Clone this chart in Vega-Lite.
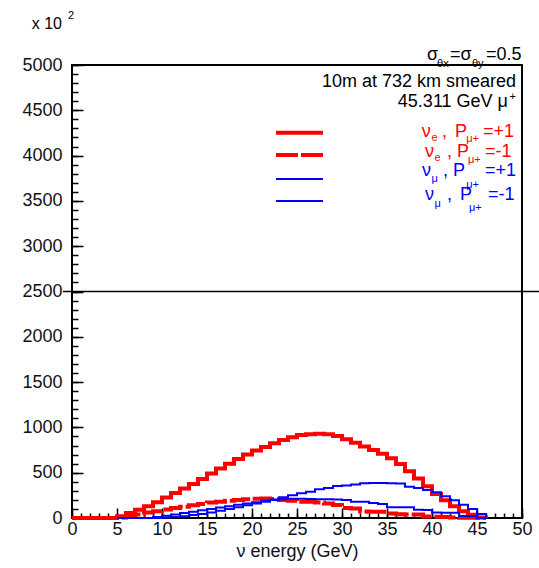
{
  "$schema": "https://vega.github.io/schema/vega-lite/v6.json",
  "width": 450,
  "height": 453,
  "autosize": "none",
  "padding": {"left": 72, "top": 65, "right": 17, "bottom": 50},
  "background": "white",
  "config": {
    "view": {"stroke": "black", "strokeWidth": 2},
    "font": "Liberation Sans",
    "axis": {"domain": false, "tickColor": "black", "tickWidth": 1.5, "labelColor": "#111", "labelFont": "Liberation Sans", "labelFontSize": 18, "titleFont": "Liberation Sans", "titleFontSize": 18, "titleFontWeight": "normal", "titleColor": "#111", "grid": false, "labelOverlap": false, "labelFlush": false}
  },
  "datasets": {
    "hist": [
      {"s":"e+1","E":0,"n":0},{"s":"e+1","E":1,"n":0},{"s":"e+1","E":2,"n":0},{"s":"e+1","E":3,"n":0},{"s":"e+1","E":4,"n":0},{"s":"e+1","E":5,"n":20},{"s":"e+1","E":6,"n":55},{"s":"e+1","E":7,"n":90},{"s":"e+1","E":8,"n":130},{"s":"e+1","E":9,"n":175},{"s":"e+1","E":10,"n":225},{"s":"e+1","E":11,"n":275},{"s":"e+1","E":12,"n":325},{"s":"e+1","E":13,"n":375},{"s":"e+1","E":14,"n":430},{"s":"e+1","E":15,"n":490},{"s":"e+1","E":16,"n":545},{"s":"e+1","E":17,"n":600},{"s":"e+1","E":18,"n":650},{"s":"e+1","E":19,"n":700},{"s":"e+1","E":20,"n":745},{"s":"e+1","E":21,"n":785},{"s":"e+1","E":22,"n":825},{"s":"e+1","E":23,"n":860},{"s":"e+1","E":24,"n":890},{"s":"e+1","E":25,"n":915},{"s":"e+1","E":26,"n":925},{"s":"e+1","E":27,"n":930},{"s":"e+1","E":28,"n":925},{"s":"e+1","E":29,"n":905},{"s":"e+1","E":30,"n":870},{"s":"e+1","E":31,"n":830},{"s":"e+1","E":32,"n":790},{"s":"e+1","E":33,"n":750},{"s":"e+1","E":34,"n":710},{"s":"e+1","E":35,"n":660},{"s":"e+1","E":36,"n":595},{"s":"e+1","E":37,"n":515},{"s":"e+1","E":38,"n":435},{"s":"e+1","E":39,"n":350},{"s":"e+1","E":40,"n":265},{"s":"e+1","E":41,"n":195},{"s":"e+1","E":42,"n":130},{"s":"e+1","E":43,"n":75},{"s":"e+1","E":44,"n":35},{"s":"e+1","E":45,"n":5},{"s":"e+1","E":46,"n":0},
      {"s":"e-1","E":0,"n":0},{"s":"e-1","E":1,"n":0},{"s":"e-1","E":2,"n":0},{"s":"e-1","E":3,"n":0},{"s":"e-1","E":4,"n":0},{"s":"e-1","E":5,"n":5},{"s":"e-1","E":6,"n":20},{"s":"e-1","E":7,"n":40},{"s":"e-1","E":8,"n":60},{"s":"e-1","E":9,"n":75},{"s":"e-1","E":10,"n":95},{"s":"e-1","E":11,"n":110},{"s":"e-1","E":12,"n":125},{"s":"e-1","E":13,"n":140},{"s":"e-1","E":14,"n":155},{"s":"e-1","E":15,"n":170},{"s":"e-1","E":16,"n":180},{"s":"e-1","E":17,"n":190},{"s":"e-1","E":18,"n":200},{"s":"e-1","E":19,"n":208},{"s":"e-1","E":20,"n":213},{"s":"e-1","E":21,"n":215},{"s":"e-1","E":22,"n":210},{"s":"e-1","E":23,"n":200},{"s":"e-1","E":24,"n":190},{"s":"e-1","E":25,"n":180},{"s":"e-1","E":26,"n":178},{"s":"e-1","E":27,"n":170},{"s":"e-1","E":28,"n":160},{"s":"e-1","E":29,"n":143},{"s":"e-1","E":30,"n":110},{"s":"e-1","E":31,"n":105},{"s":"e-1","E":32,"n":72},{"s":"e-1","E":33,"n":70},{"s":"e-1","E":34,"n":68},{"s":"e-1","E":35,"n":50},{"s":"e-1","E":36,"n":42},{"s":"e-1","E":37,"n":40},{"s":"e-1","E":38,"n":38},{"s":"e-1","E":39,"n":16},{"s":"e-1","E":40,"n":15},{"s":"e-1","E":41,"n":12},{"s":"e-1","E":42,"n":5},{"s":"e-1","E":43,"n":4},{"s":"e-1","E":44,"n":3},{"s":"e-1","E":45,"n":0},{"s":"e-1","E":46,"n":0},
      {"s":"mu+1","E":5,"n":0},{"s":"mu+1","E":6,"n":0},{"s":"mu+1","E":7,"n":0},{"s":"mu+1","E":8,"n":0},{"s":"mu+1","E":9,"n":0},{"s":"mu+1","E":10,"n":5},{"s":"mu+1","E":11,"n":10},{"s":"mu+1","E":12,"n":20},{"s":"mu+1","E":13,"n":32},{"s":"mu+1","E":14,"n":45},{"s":"mu+1","E":15,"n":60},{"s":"mu+1","E":16,"n":80},{"s":"mu+1","E":17,"n":100},{"s":"mu+1","E":18,"n":120},{"s":"mu+1","E":19,"n":140},{"s":"mu+1","E":20,"n":160},{"s":"mu+1","E":21,"n":180},{"s":"mu+1","E":22,"n":205},{"s":"mu+1","E":23,"n":228},{"s":"mu+1","E":24,"n":250},{"s":"mu+1","E":25,"n":272},{"s":"mu+1","E":26,"n":290},{"s":"mu+1","E":27,"n":316},{"s":"mu+1","E":28,"n":330},{"s":"mu+1","E":29,"n":353},{"s":"mu+1","E":30,"n":360},{"s":"mu+1","E":31,"n":370},{"s":"mu+1","E":32,"n":383},{"s":"mu+1","E":33,"n":385},{"s":"mu+1","E":34,"n":385},{"s":"mu+1","E":35,"n":383},{"s":"mu+1","E":36,"n":380},{"s":"mu+1","E":37,"n":346},{"s":"mu+1","E":38,"n":330},{"s":"mu+1","E":39,"n":309},{"s":"mu+1","E":40,"n":285},{"s":"mu+1","E":41,"n":240},{"s":"mu+1","E":42,"n":195},{"s":"mu+1","E":43,"n":145},{"s":"mu+1","E":44,"n":100},{"s":"mu+1","E":45,"n":45},{"s":"mu+1","E":46,"n":0},
      {"s":"mu-1","E":5,"n":0},{"s":"mu-1","E":6,"n":0},{"s":"mu-1","E":7,"n":0},{"s":"mu-1","E":8,"n":0},{"s":"mu-1","E":9,"n":10},{"s":"mu-1","E":10,"n":25},{"s":"mu-1","E":11,"n":40},{"s":"mu-1","E":12,"n":55},{"s":"mu-1","E":13,"n":70},{"s":"mu-1","E":14,"n":85},{"s":"mu-1","E":15,"n":100},{"s":"mu-1","E":16,"n":115},{"s":"mu-1","E":17,"n":130},{"s":"mu-1","E":18,"n":145},{"s":"mu-1","E":19,"n":160},{"s":"mu-1","E":20,"n":175},{"s":"mu-1","E":21,"n":190},{"s":"mu-1","E":22,"n":200},{"s":"mu-1","E":23,"n":208},{"s":"mu-1","E":24,"n":212},{"s":"mu-1","E":25,"n":212},{"s":"mu-1","E":26,"n":210},{"s":"mu-1","E":27,"n":208},{"s":"mu-1","E":28,"n":206},{"s":"mu-1","E":29,"n":205},{"s":"mu-1","E":30,"n":200},{"s":"mu-1","E":31,"n":180},{"s":"mu-1","E":32,"n":180},{"s":"mu-1","E":33,"n":165},{"s":"mu-1","E":34,"n":155},{"s":"mu-1","E":35,"n":120},{"s":"mu-1","E":36,"n":118},{"s":"mu-1","E":37,"n":118},{"s":"mu-1","E":38,"n":90},{"s":"mu-1","E":39,"n":88},{"s":"mu-1","E":40,"n":60},{"s":"mu-1","E":41,"n":59},{"s":"mu-1","E":42,"n":58},{"s":"mu-1","E":43,"n":22},{"s":"mu-1","E":44,"n":20},{"s":"mu-1","E":45,"n":0},{"s":"mu-1","E":46,"n":0}
    ],
    "legend": [
      {"s":"e+1","E":22.67,"E2":27.89,"n":4253},
      {"s":"e-1","E":22.67,"E2":27.89,"n":4007},
      {"s":"mu+1","E":22.67,"E2":27.89,"n":3742},
      {"s":"mu-1","E":22.67,"E2":27.89,"n":3499}
    ],
    "hline": [{"E":-1,"E2":51.9,"n":2500}],
    "mainText": [
      {"t":"σ","s":"k","E":39.44,"n":5055},
      {"t":"=σ","s":"k","E":42.0,"n":5055},
      {"t":"=0.5","s":"k","E":46.0,"n":5055},
      {"t":"ν","s":"e","E":38.86,"n":4205},
      {"t":",","s":"e","E":41.11,"n":4205},
      {"t":"P","s":"e","E":42.56,"n":4205},
      {"t":"=+1","s":"e","E":45.67,"n":4205},
      {"t":"ν","s":"e","E":39.22,"n":3985},
      {"t":",","s":"e","E":41.67,"n":3985},
      {"t":"P","s":"e","E":42.78,"n":3985},
      {"t":"=-1","s":"e","E":45.89,"n":3985},
      {"t":"ν","s":"mu","E":38.89,"n":3775},
      {"t":",","s":"mu","E":41.22,"n":3775},
      {"t":"P","s":"mu","E":42.33,"n":3775},
      {"t":"=+1","s":"mu","E":45.89,"n":3775},
      {"t":"ν","s":"mu","E":39.22,"n":3510},
      {"t":",","s":"mu","E":41.67,"n":3510},
      {"t":"P","s":"mu","E":43.11,"n":3510},
      {"t":"=-1","s":"mu","E":46.22,"n":3510}
    ],
    "rightText": [
      {"t":"10m at 732 km smeared","s":"k","E":49.33,"n":4757},
      {"t":"45.311 GeV μ","s":"k","E":48.44,"n":4536}
    ],
    "factorText": [
      {"t":"x 10","s":"k","E":-1.11,"n":5397}
    ],
    "subText": [
      {"t":"θx","s":"k","E":40.56,"n":4978},
      {"t":"θy","s":"k","E":44.44,"n":4978},
      {"t":"+","s":"k","E":48.6,"n":4612},
      {"t":"2","s":"k","E":-0.44,"n":5508},
      {"t":"e","s":"e","E":39.94,"n":4161},
      {"t":"μ+","s":"e","E":43.8,"n":4150},
      {"t":"e","s":"e","E":40.28,"n":3940},
      {"t":"μ+","s":"e","E":44.0,"n":3918},
      {"t":"μ","s":"mu","E":39.94,"n":3709},
      {"t":"μ+","s":"mu","E":43.8,"n":3645},
      {"t":"μ","s":"mu","E":40.28,"n":3433},
      {"t":"μ+","s":"mu","E":44.1,"n":3385}
    ]
  },
  "layer": [
    {
      "data": {"name": "hist"},
      "transform": [{"filter": "datum.s === 'e+1' || datum.s === 'e-1'"}],
      "mark": {"type": "line", "interpolate": "step-after", "strokeWidth": 4},
      "encoding": {
        "x": {"field": "E", "type": "quantitative", "scale": {"domain": [0, 50], "nice": false, "zero": false},
              "axis": {"orient": "bottom", "offset": -10, "values": [0,5,10,15,20,25,30,35,40,45,50], "tickSize": 10, "labelPadding": 2, "title": "ν energy (GeV)", "titlePadding": 4}},
        "y": {"field": "n", "type": "quantitative", "scale": {"domain": [0, 5000], "nice": false},
              "axis": {"orient": "left", "offset": -11, "format": "d", "values": [0,500,1000,1500,2000,2500,3000,3500,4000,4500,5000], "tickSize": 11, "labelPadding": 10, "title": null}},
        "color": {"field": "s", "type": "nominal", "scale": {"domain": ["e+1","e-1","mu+1","mu-1","k","e","mu"], "range": ["#ff0000","#ff0000","#0000ff","#0000ff","#000000","#ff0000","#0000ff"]}, "legend": null},
        "strokeDash": {"field": "s", "type": "nominal", "scale": {"domain": ["e+1","e-1","mu+1","mu-1"], "range": [[1,0],[22,3],[1,0],[1,0]]}, "legend": null}
      }
    },
    {
      "data": {"name": "hist"},
      "transform": [{"filter": "datum.s === 'mu+1' || datum.s === 'mu-1'"}],
      "mark": {"type": "line", "interpolate": "step-after", "strokeWidth": 2},
      "encoding": {
        "x": {"field": "E", "type": "quantitative", "axis": null},
        "y": {"field": "n", "type": "quantitative", "axis": null},
        "color": {"field": "s", "type": "nominal", "legend": null},
        "strokeDash": {"field": "s", "type": "nominal", "legend": null}
      }
    },
    {
      "data": {"name": "legend"},
      "transform": [{"filter": "datum.s === 'e+1' || datum.s === 'e-1'"}],
      "mark": {"type": "rule", "strokeWidth": 4},
      "encoding": {
        "x": {"field": "E", "type": "quantitative", "axis": null},
        "x2": {"field": "E2"},
        "y": {"field": "n", "type": "quantitative", "axis": null},
        "color": {"field": "s", "type": "nominal", "legend": null},
        "strokeDash": {"field": "s", "type": "nominal", "legend": null}
      }
    },
    {
      "data": {"name": "legend"},
      "transform": [{"filter": "datum.s === 'mu+1' || datum.s === 'mu-1'"}],
      "mark": {"type": "rule", "strokeWidth": 2},
      "encoding": {
        "x": {"field": "E", "type": "quantitative", "axis": null},
        "x2": {"field": "E2"},
        "y": {"field": "n", "type": "quantitative", "axis": null},
        "color": {"field": "s", "type": "nominal", "legend": null}
      }
    },
    {
      "data": {"name": "hline"},
      "mark": {"type": "rule", "color": "black", "strokeWidth": 1.5, "clip": false},
      "encoding": {
        "x": {"field": "E", "type": "quantitative",
              "axis": {"orient": "bottom", "offset": -5, "values": [0,1,2,3,4,5,6,7,8,9,10,11,12,13,14,15,16,17,18,19,20,21,22,23,24,25,26,27,28,29,30,31,32,33,34,35,36,37,38,39,40,41,42,43,44,45,46,47,48,49,50], "tickSize": 5, "labels": false, "title": null}},
        "x2": {"field": "E2"},
        "y": {"field": "n", "type": "quantitative",
              "axis": {"orient": "left", "offset": -6, "values": [0,100,200,300,400,500,600,700,800,900,1000,1100,1200,1300,1400,1500,1600,1700,1800,1900,2000,2100,2200,2300,2400,2500,2600,2700,2800,2900,3000,3100,3200,3300,3400,3500,3600,3700,3800,3900,4000,4100,4200,4300,4400,4500,4600,4700,4800,4900,5000], "tickSize": 6, "labels": false, "title": null}}
      }
    },
    {
      "data": {"name": "mainText"},
      "mark": {"type": "text", "align": "left", "baseline": "alphabetic", "fontSize": 18, "font": "Liberation Sans"},
      "encoding": {
        "x": {"field": "E", "type": "quantitative", "axis": null},
        "y": {"field": "n", "type": "quantitative", "axis": null},
        "text": {"field": "t"},
        "color": {"field": "s", "type": "nominal", "legend": null}
      }
    },
    {
      "data": {"name": "rightText"},
      "mark": {"type": "text", "align": "right", "baseline": "alphabetic", "fontSize": 18, "font": "Liberation Sans"},
      "encoding": {
        "x": {"field": "E", "type": "quantitative", "axis": null},
        "y": {"field": "n", "type": "quantitative", "axis": null},
        "text": {"field": "t"},
        "color": {"field": "s", "type": "nominal", "legend": null}
      }
    },
    {
      "data": {"name": "factorText"},
      "mark": {"type": "text", "align": "right", "baseline": "alphabetic", "fontSize": 16, "font": "Liberation Sans"},
      "encoding": {
        "x": {"field": "E", "type": "quantitative", "axis": null},
        "y": {"field": "n", "type": "quantitative", "axis": null},
        "text": {"field": "t"},
        "color": {"field": "s", "type": "nominal", "legend": null}
      }
    },
    {
      "data": {"name": "subText"},
      "mark": {"type": "text", "align": "left", "baseline": "alphabetic", "fontSize": 11, "font": "Liberation Sans"},
      "encoding": {
        "x": {"field": "E", "type": "quantitative", "axis": null},
        "y": {"field": "n", "type": "quantitative", "axis": null},
        "text": {"field": "t"},
        "color": {"field": "s", "type": "nominal", "legend": null}
      }
    }
  ],
  "resolve": {"axis": {"x": "independent", "y": "independent"}}
}
